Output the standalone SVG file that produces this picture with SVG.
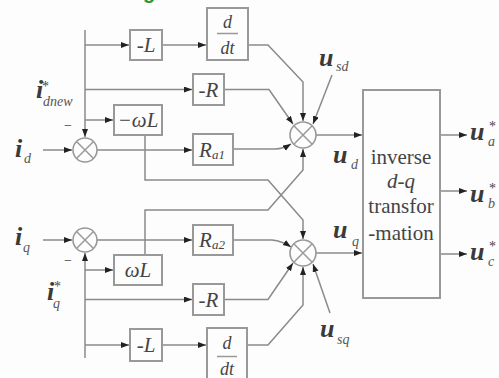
<svg xmlns="http://www.w3.org/2000/svg" width="499" height="378" viewBox="0 0 499 378" font-family="Liberation Serif, Times New Roman, DejaVu Serif, serif">
<defs>
<marker id="ah" markerUnits="userSpaceOnUse" markerWidth="9" markerHeight="7" refX="8" refY="3" orient="auto">
<path d="M0,0 L8,3 L0,6 z" fill="#222"/>
</marker>
<style>
.ar{fill:none;stroke:#8a8a8a;stroke-width:1.5;marker-end:url(#ah)}
.bx{fill:#fdfdfd;stroke:#999;stroke-width:2}
.sj{fill:#fdfdfd;stroke:#999;stroke-width:1.6}
.sx{stroke:#999;stroke-width:1.5}
.bl{font-style:italic;font-size:21px;fill:#444;text-anchor:middle}
.fr{font-style:italic;font-size:18px;fill:#444;text-anchor:middle}
.tx{font-size:21px;fill:#444;text-anchor:middle}
.lb{font-style:italic;font-weight:bold;font-size:26px;fill:#3a3a3a}
.sb{font-style:italic;font-size:14px;fill:#555}
.st{font-size:14px;fill:#444}
</style>
</defs>
<rect width="499" height="378" fill="#fdfdfd"/>
<text x="143" y="-1" font-family="Liberation Sans, Arial, sans-serif" font-weight="bold" font-size="20" fill="#1a9a3a">g</text>

<g id="connectors">
<path class="ar" d="M43,150 L72,150"/>
<path class="ar" d="M85,30 L85,137"/>
<path class="ar" d="M85,45 L129,45"/>
<path class="ar" d="M85,89.5 L192,89.5"/>
<path class="ar" d="M85,120 L113,120"/>
<path class="ar" d="M162,45 L206,45"/>
<path class="ar" d="M97,150 L192,150"/>
<path class="ar" d="M248,45 L268,45 L303,82 L303,121"/>
<path class="ar" d="M224,89.5 L269,89.5 L293,124"/>
<path class="ar" d="M233,149 L275,149 Q283,149 291,144"/>
<path class="ar" d="M332,75 L313,124"/>
<path class="ar" d="M316,135 L362,135"/>
<path class="ar" d="M145,135 L145,180 L268,180 L303,220 L303,239"/>
<path class="ar" d="M145,255 L145,210 L268,210 L303,170 L303,149"/>
<path class="ar" d="M43,240 L72,240"/>
<path class="ar" d="M85,358 L85,253"/>
<path class="ar" d="M85,270 L113,270"/>
<path class="ar" d="M85,299.5 L192,299.5"/>
<path class="ar" d="M85,345 L129,345"/>
<path class="ar" d="M162,345 L206,345"/>
<path class="ar" d="M97,240 L192,240"/>
<path class="ar" d="M233,240 L272,240 Q282,241 291,247"/>
<path class="ar" d="M224,299.5 L268,299.5 L293,263"/>
<path class="ar" d="M247,345 L268,345 L303,305 L303,267"/>
<path class="ar" d="M330,313 L313,264"/>
<path class="ar" d="M316,253 L362,253"/>
<path class="ar" d="M440,135 L467,135"/>
<path class="ar" d="M440,191 L467,191"/>
<path class="ar" d="M440,254 L467,254"/>
</g>

<g id="sum_d_in">
<circle class="sj" cx="85" cy="150" r="12"/>
<path class="sx" d="M76.5,141.5 L93.5,158.5 M93.5,141.5 L76.5,158.5"/>
</g>
<g id="sum_q_in">
<circle class="sj" cx="85" cy="240" r="12"/>
<path class="sx" d="M76.5,231.5 L93.5,248.5 M93.5,231.5 L76.5,248.5"/>
</g>
<g id="sum_d_out">
<circle class="sj" cx="303" cy="135" r="13"/>
<path class="sx" d="M293.8,125.8 L312.2,144.2 M312.2,125.8 L293.8,144.2"/>
</g>
<g id="sum_q_out">
<circle class="sj" cx="303" cy="253" r="13"/>
<path class="sx" d="M293.8,243.8 L312.2,262.2 M312.2,243.8 L293.8,262.2"/>
</g>

<g id="L_d"><rect class="bx" x="130" y="30" width="32" height="30"/><text class="bl" x="146" y="52">-L</text></g>
<g id="ddt_d"><rect class="bx" x="207" y="8" width="41" height="52"/><text class="fr" x="227.5" y="28">d</text><path class="sx" d="M217,33.5 L238,33.5"/><text class="fr" x="227.5" y="54">dt</text></g>
<g id="R_d"><rect class="bx" x="193" y="74" width="31" height="31"/><text class="bl" x="208.5" y="97">-R</text></g>
<g id="wL_d"><rect class="bx" x="114" y="105" width="48" height="30"/><text class="bl" x="138" y="127">−ωL</text></g>
<g id="Ra1"><rect class="bx" x="193" y="134" width="40" height="31"/><text class="bl" x="212" y="157">R<tspan font-size="13" dy="2">a1</tspan></text></g>

<g id="Ra2"><rect class="bx" x="193" y="225" width="40" height="30"/><text class="bl" x="212" y="247">R<tspan font-size="13" dy="2">a2</tspan></text></g>
<g id="wL_q"><rect class="bx" x="114" y="255" width="48" height="30"/><text class="bl" x="138" y="277">ωL</text></g>
<g id="R_q"><rect class="bx" x="193" y="284" width="31" height="31"/><text class="bl" x="208.5" y="307">-R</text></g>
<g id="L_q"><rect class="bx" x="130" y="329" width="32" height="32"/><text class="bl" x="146" y="352">-L</text></g>
<g id="ddt_q"><rect class="bx" x="207" y="328" width="40" height="54"/><text class="fr" x="227" y="349">d</text><path class="sx" d="M217,356.5 L237,356.5"/><text class="fr" x="227" y="375">dt</text></g>

<g id="inv_dq">
<rect class="bx" x="363" y="90" width="77" height="208"/>
<text class="tx" x="401" y="164">inverse</text>
<text class="tx" x="401" y="188" font-style="italic">d-q</text>
<text class="tx" x="401" y="213">transfor</text>
<text class="tx" x="401" y="240">-mation</text>
</g>

<g id="labels">
<text class="lb" x="15" y="157">i</text><text class="sb" x="24" y="163">d</text>
<text class="lb" x="36" y="98">i</text><text class="st" x="42" y="91">*</text><text class="sb" x="43" y="106">dnew</text>
<text class="st" x="64" y="130">−</text>
<text class="lb" x="15" y="245">i</text><text class="sb" x="23" y="252">q</text>
<text class="st" x="64" y="265">−</text>
<text class="lb" x="47" y="300">i</text><text class="st" x="54" y="291">*</text><text class="sb" x="53" y="308">q</text>
<text class="lb" x="319" y="66">u</text><text class="sb" x="336" y="71">sd</text>
<text class="lb" x="333" y="163">u</text><text class="sb" x="351" y="169">d</text>
<text class="lb" x="333" y="238">u</text><text class="sb" x="352" y="246">q</text>
<text class="lb" x="320" y="337">u</text><text class="sb" x="337" y="344">sq</text>
<text class="lb" x="470" y="140">u</text><text class="st" x="489" y="131">*</text><text class="sb" x="488" y="146">a</text>
<text class="lb" x="470" y="202">u</text><text class="st" x="489" y="193">*</text><text class="sb" x="488" y="208">b</text>
<text class="lb" x="470" y="260">u</text><text class="st" x="489" y="251">*</text><text class="sb" x="488" y="266">c</text>
</g>
</svg>
